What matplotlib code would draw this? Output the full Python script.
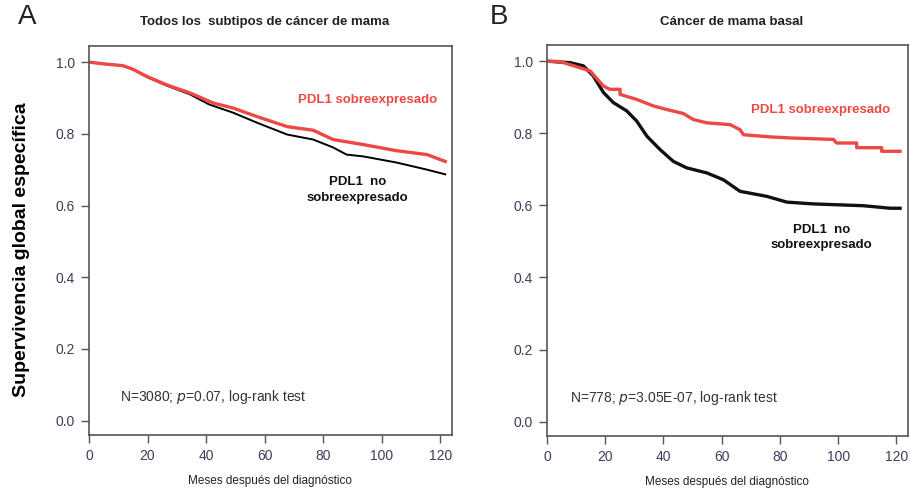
import matplotlib
matplotlib.use("Agg")
import matplotlib.pyplot as plt

plt.rcParams['font.family'] = ['Liberation Sans', 'DejaVu Sans']

# Panel A: all subtypes (months, survival)
a_hi_t = [0, 5, 11.6, 15, 19.8, 26.7, 34.5, 42.4, 49.2, 57.4, 67.7, 76.6, 83.4, 93.7, 105, 115.5, 121.7]
a_hi_s = [1.0, 0.995, 0.99, 0.98, 0.96, 0.936, 0.914, 0.886, 0.872, 0.848, 0.82, 0.81, 0.784, 0.77, 0.753, 0.742, 0.723]
a_lo_t = [0, 5, 11.6, 15, 19.8, 26.7, 34.5, 41, 49.2, 57.4, 67.7, 76.6, 83.4, 88, 93.7, 105, 115.5, 121.7]
a_lo_s = [1.0, 0.995, 0.99, 0.98, 0.958, 0.934, 0.91, 0.882, 0.859, 0.831, 0.798, 0.784, 0.762, 0.742, 0.737, 0.72, 0.70, 0.687]

# Panel B: basal
b_hi_t = [0, 4.5, 14.8, 19.4, 21.6, 25.1, 25.1, 30.8, 36.5, 41.1, 46.8, 50.3, 54.9, 62.9, 66.3, 67.5,
          76.6, 83.5, 98.4, 99.5, 106.4, 106.4, 115, 115, 121.3]
b_hi_s = [1.0, 0.999, 0.973, 0.931, 0.922, 0.922, 0.908, 0.894, 0.876, 0.866, 0.855, 0.838, 0.829, 0.824,
          0.81, 0.796, 0.790, 0.787, 0.783, 0.773, 0.773, 0.760, 0.760, 0.750, 0.750]
b_lo_t = [0, 7.9, 12.5, 15.9, 19.4, 22.8, 27.4, 30.8, 34.3, 38.8, 43.4, 48, 54.9, 60.6, 66.3, 75.5,
          82.4, 91.5, 108.7, 117.9, 121.3]
b_lo_s = [1.0, 0.996, 0.987, 0.959, 0.913, 0.885, 0.862, 0.834, 0.792, 0.755, 0.722, 0.704, 0.690, 0.671,
          0.639, 0.625, 0.609, 0.604, 0.599, 0.592, 0.592]

y_ticks = [0.0, 0.2, 0.4, 0.6, 0.8, 1.0]
x_ticks = [0, 20, 40, 60, 80, 100, 120]

RED = '#ec4944'
TICK_COL = '#3d3d5c'
SPINE = '#555555'

fig = plt.figure(figsize=(9.09, 4.90), dpi=100)
axA = fig.add_axes([0.0979, 0.1122, 0.3993, 0.794])
axB = fig.add_axes([0.6018, 0.1102, 0.397, 0.798])


def style(ax):
    ax.set_xlim(0, 124)
    ax.set_ylim(-0.04, 1.045)
    ax.set_xticks(x_ticks)
    ax.set_yticks(y_ticks)
    ax.set_yticklabels([f'{v:.1f}' for v in y_ticks])
    for s in ax.spines.values():
        s.set_color(SPINE)
        s.set_linewidth(1.2)
    ax.tick_params(direction='out', length=6, width=1.0, color=SPINE,
                   labelsize=10, labelcolor=TICK_COL, pad=4)
    ax.set_xlabel('Meses después del diagnóstico', fontsize=8.5, color='#222222', labelpad=9)


style(axA)
axA.plot(a_lo_t, a_lo_s, color='black', lw=1.4)
axA.plot(a_hi_t, a_hi_s, color=RED, lw=2.4)
axA.text(0.576, 0.86, 'PDL1 sobreexpresado', transform=axA.transAxes, color=RED,
         fontsize=9.5, fontweight='bold', ha='left', va='center')
axA.text(0.74, 0.63, 'PDL1  no\nsobreexpresado', transform=axA.transAxes, color='#111111',
         fontsize=9.5, fontweight='bold', ha='center', va='center', linespacing=1.4)
axA.text(0.085, 0.098, 'N=3080; $\\mathit{p}$=0.07, log-rank test', transform=axA.transAxes,
         color='#333333', fontsize=10, ha='left', va='center')

style(axB)
axB.plot(b_lo_t, b_lo_s, color='#111111', lw=2.4)
axB.plot(b_hi_t, b_hi_s, color=RED, lw=2.4)
axB.text(0.565, 0.835, 'PDL1 sobreexpresado', transform=axB.transAxes, color=RED,
         fontsize=9.5, fontweight='bold', ha='left', va='center')
axB.text(0.76, 0.508, 'PDL1  no\nsobreexpresado', transform=axB.transAxes, color='#111111',
         fontsize=9.5, fontweight='bold', ha='center', va='center', linespacing=1.4)
axB.text(0.065, 0.098, 'N=778; $\\mathit{p}$=3.05E-07, log-rank test', transform=axB.transAxes,
         color='#333333', fontsize=10, ha='left', va='center')

fig.text(265 / 909, 1 - 22 / 490, 'Todos los  subtipos de cáncer de mama',
         fontsize=9.5, fontweight='bold', ha='center', va='center', color='#222222')
fig.text(732 / 909, 1 - 22 / 490, 'Cáncer de mama basal',
         fontsize=9.5, fontweight='bold', ha='center', va='center', color='#222222')
fig.text(27 / 909, 1 - 17 / 490, 'A', fontsize=20, ha='center', va='center', color='#222222')
fig.text(499 / 909, 1 - 17 / 490, 'B', fontsize=20, ha='center', va='center', color='#222222')
fig.text(22 / 909, 1 - 250 / 490, 'Supervivencia global específica', rotation=90,
         fontsize=14, fontweight='bold', ha='center', va='center', color='black')

fig.savefig('out.png', dpi=100)
